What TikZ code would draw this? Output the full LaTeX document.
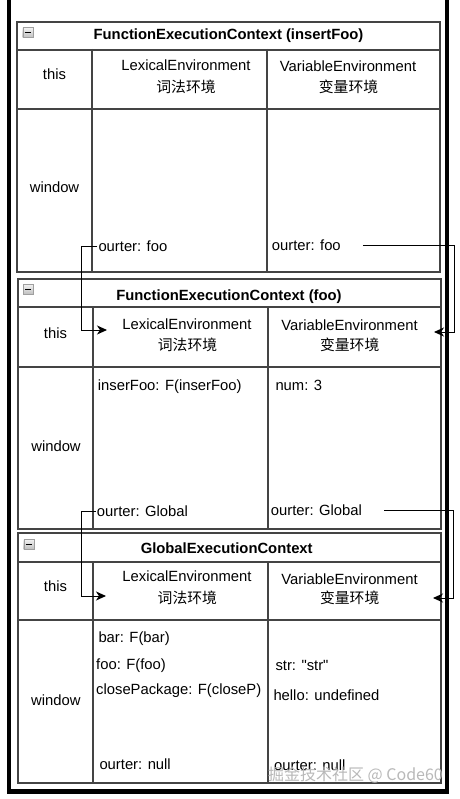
\documentclass[tikz,border=0pt]{standalone}
\usepackage{fontspec}
\setmainfont{Liberation Sans}
\newfontfamily\cjk{Noto Sans CJK SC}
\usetikzlibrary{arrows.meta}
\definecolor{tline}{HTML}{444444}
\newcommand\fs{\fontsize{14.8}{17}\selectfont}
\tikzset{
  tblout/.style={draw=tline, line width=1.4pt},
  tblin/.style={draw=tline, line width=1.2pt},
  txt/.style={inner sep=0pt, anchor=base west, font=\fs},
  ctxt/.style={inner sep=0pt, anchor=base, font=\fs},
  cjkt/.style={inner sep=0pt, anchor=base, font=\cjk\fs},
  hdr/.style={inner sep=0pt, anchor=base, font=\fs\bfseries},
  conn/.style={draw=black, line width=1pt},
  arr/.style={-{Stealth[length=10pt,width=9pt,inset=3pt]}},
  iconbox/.style={draw=gray!75, top color=gray!10, bottom color=gray!50, minimum size=10pt, inner sep=0pt, anchor=north west,
    path picture={\draw[black, line width=1.2pt] ([xshift=2pt]path picture bounding box.west) -- ([xshift=-2pt]path picture bounding box.east);}},
  frame/.style={draw=black, line width=4.5pt}
}
\begin{document}
\begin{tikzpicture}[x=1pt,y=-1pt]
\useasboundingbox[fill=white] (0,0) rectangle (459,799);

% ---------- table 1 ----------
\draw[tblout] (17,22) rectangle (440,272);
\draw[tblin] (17,50) -- (440,50);
\draw[tblin] (17,109) -- (441,109);
\draw[tblin] (92,49) -- (92,272);
\draw[tblin] (267,49) -- (267,272);
\node[iconbox] (i1) at (22.5,27.5) {};
\node[hdr] (h1) at (228.5,40) {FunctionExecutionContext (insertFoo)};
\node[ctxt] (this1) at (54.5,80) {this};
\node[ctxt] (le1) at (186,70.5) {LexicalEnvironment};
\node[cjkt] (lc1) at (186,92.5) {词法环境};
\node[ctxt] (ve1) at (348,71.5) {VariableEnvironment};
\node[cjkt] (vc1) at (348.5,93) {变量环境};
\node[ctxt] (w1) at (54.5,193) {window};
\node[txt] (lo1) at (98.3,251.5) {ourter: foo};
\node[txt] (vo1) at (271.7,250.5) {ourter: foo};

% ---------- table 2 ----------
\draw[tblout] (18,279) rectangle (441,529);
\draw[tblin] (18,307) -- (441,307);
\draw[tblin] (18,367) -- (441,367);
\draw[tblin] (93,306) -- (93,529);
\draw[tblin] (268,306) -- (268,529);
\node[iconbox] (i2) at (23,284) {};
\node[hdr] (h2) at (229,300) {FunctionExecutionContext (foo)};
\node[ctxt] (this2) at (55.5,338.3) {this};
\node[ctxt] (le2) at (187,329) {LexicalEnvironment};
\node[cjkt] (lc2) at (187.5,350.5) {词法环境};
\node[ctxt] (ve2) at (349.5,330) {VariableEnvironment};
\node[cjkt] (vc2) at (349.7,350) {变量环境};
\node[ctxt] (w2) at (56,451) {window};
\node[txt] (ins) at (97.7,390) {inserFoo: F(inserFoo)};
\node[txt] (num) at (275.3,390.7) {num: 3};
\node[txt] (lo2) at (96.7,516.5) {ourter: Global};
\node[txt] (vo2) at (270.7,515.5) {ourter: Global};

% ---------- table 3 ----------
\draw[tblout] (18,533) rectangle (441,783);
\draw[tblin] (18,562) -- (441,562);
\draw[tblin] (18,620) -- (441,620);
\draw[tblin] (93,561) -- (93,783);
\draw[tblin] (268,561) -- (268,783);
\node[iconbox] (i3) at (23.5,539) {};
\node[hdr] (h3) at (226.7,553.3) {GlobalExecutionContext};
\node[ctxt] (this3) at (55.5,591.7) {this};
\node[ctxt] (le3) at (187,581.7) {LexicalEnvironment};
\node[cjkt] (lc3) at (187.3,603.5) {词法环境};
\node[ctxt] (ve3) at (349.5,584) {VariableEnvironment};
\node[cjkt] (vc3) at (349.7,603.5) {变量环境};
\node[ctxt] (w3) at (55.8,705) {window};
\node[txt] (bar) at (98.3,642.5) {bar: F(bar)};
\node[txt] (foo) at (96,669) {foo: F(foo)};
\node[txt] (clo) at (96,694.8) {closePackage: F(closeP)};
\node[txt] (lo3) at (99.3,769.3) {ourter: null};
\node[txt] (str) at (275.3,670.7) {str: \textquotedbl str\textquotedbl};
\node[txt] (hel) at (273.3,700.7) {hello: undefined};
\node[txt] (vo3) at (274,770) {ourter: null};

% ---------- outer frame ----------
\draw[frame] (9,0) -- (9,791.5) -- (447,791.5) -- (447,0);

% ---------- connectors ----------
\coordinate (c1) at (81,330);
\coordinate (t1) at (107,330);
\coordinate (c2) at (454,332);
\coordinate (t2) at (434,332);
\coordinate (c3) at (81,596);
\coordinate (t3) at (106,596);
\coordinate (c4) at (453,598);
\coordinate (t4) at (433,598);
\draw[conn,arr] ([xshift=-1pt]lo1.west) -| (c1) -- (t1);
\draw[conn,arr] ([xshift=22pt]vo1.east) -| (c2) -- (t2);
\draw[conn,arr] ([xshift=-1pt]lo2.west) -| (c3) -- (t3);
\draw[conn,arr] ([xshift=22pt]vo2.east) -| (c4) -- (t4);

% ---------- watermark ----------
\node[anchor=base east, inner sep=0pt, font=\cjk\fontsize{16}{18}\selectfont, text=gray!55] (wm) at (443,780) {掘金技术社区 @ Code60};
\end{tikzpicture}
\end{document}
